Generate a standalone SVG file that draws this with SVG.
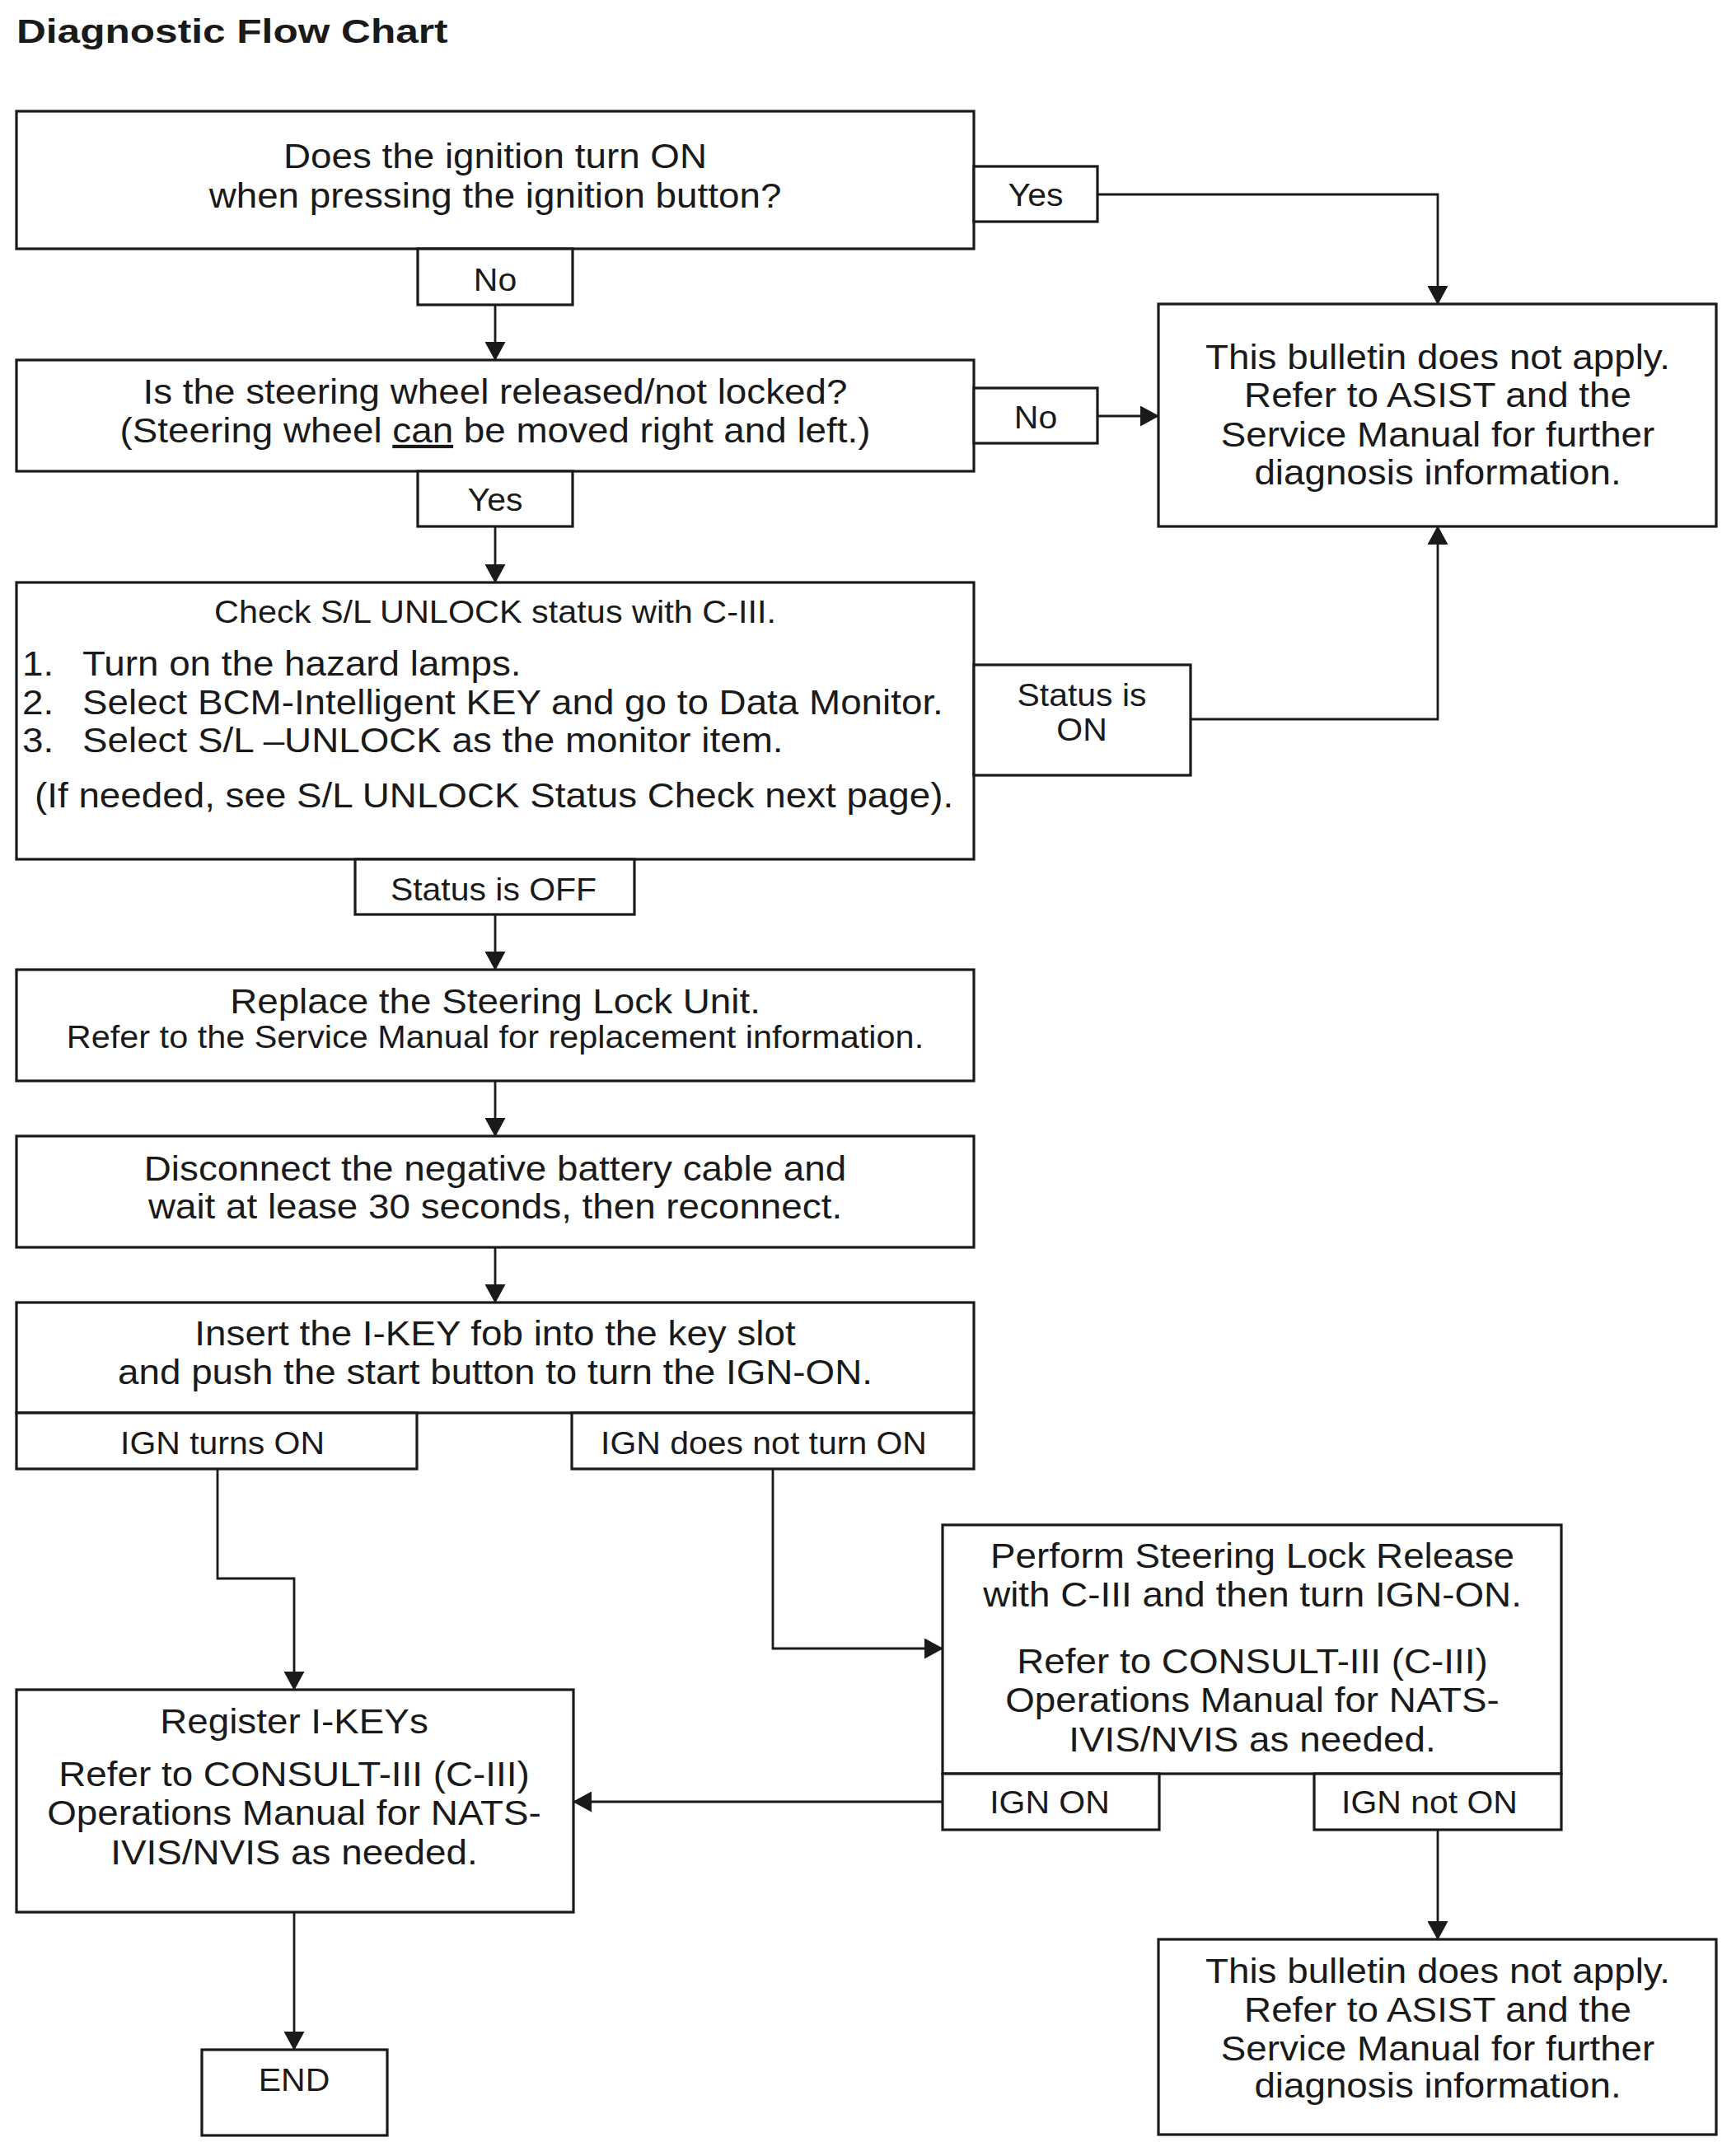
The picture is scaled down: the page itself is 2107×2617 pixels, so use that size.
<svg xmlns="http://www.w3.org/2000/svg" width="2107" height="2617" viewBox="0 0 2107 2617">
<defs>
<style>
.bg{fill:#ffffff}
.box{fill:#ffffff;stroke:#1a1a1a;stroke-width:3.2}
.edge{fill:none;stroke:#1a1a1a;stroke-width:2.8}
.t{font-family:"Liberation Sans",Arial,Helvetica,sans-serif;fill:#1a1a1a}
.c{text-anchor:middle}
.m{font-size:42px}
.s{font-size:38px}
.l{font-size:42px}
.lb{font-size:39px}
.title{font-size:41px;font-weight:bold}
</style>
<marker id="ah" markerUnits="userSpaceOnUse" markerWidth="23" markerHeight="25" refX="22" refY="12.5" orient="auto">
<path d="M0,0 L23,12.5 L0,25 Z" fill="#1a1a1a"/>
</marker>
</defs>
<rect class="bg" x="0" y="0" width="2107" height="2617"/>

<text class="t title" transform="matrix(1.21 0 0 1 20 52)">Diagnostic Flow Chart</text>

<g id="connectors">
<line class="edge" x1="601" y1="370" x2="601" y2="437" marker-end="url(#ah)"/>
<polyline class="edge" points="1332,236 1745,236 1745,369" marker-end="url(#ah)"/>
<line class="edge" x1="1332" y1="505" x2="1406" y2="505" marker-end="url(#ah)"/>
<line class="edge" x1="601" y1="639" x2="601" y2="707" marker-end="url(#ah)"/>
<polyline class="edge" points="1445,873 1745,873 1745,639" marker-end="url(#ah)"/>
<line class="edge" x1="601" y1="1110" x2="601" y2="1177" marker-end="url(#ah)"/>
<line class="edge" x1="601" y1="1312" x2="601" y2="1379" marker-end="url(#ah)"/>
<line class="edge" x1="601" y1="1514" x2="601" y2="1581" marker-end="url(#ah)"/>
<polyline class="edge" points="264,1783 264,1916 357,1916 357,2051" marker-end="url(#ah)"/>
<polyline class="edge" points="938,1783 938,2001 1144,2001" marker-end="url(#ah)"/>
<line class="edge" x1="1144" y1="2187" x2="696" y2="2187" marker-end="url(#ah)"/>
<line class="edge" x1="1745" y1="2221" x2="1745" y2="2354" marker-end="url(#ah)"/>
<line class="edge" x1="357" y1="2321" x2="357" y2="2488" marker-end="url(#ah)"/>
</g>

<g id="q-ignition">
<rect class="box" x="20" y="135" width="1162" height="167"/>
<text class="t m c" transform="matrix(1.09 0 0 1 601 204)">Does the ignition turn ON</text>
<text class="t m c" transform="matrix(1.09 0 0 1 601 252)">when pressing the ignition button?</text>
</g>
<g id="lbl-yes1">
<rect class="box" x="1182" y="202" width="150" height="67"/>
<text class="t lb c" transform="matrix(1.05 0 0 1 1257 250)">Yes</text>
</g>
<g id="lbl-no1">
<rect class="box" x="507" y="302" width="188" height="68"/>
<text class="t lb c" transform="matrix(1.05 0 0 1 601 353)">No</text>
</g>

<g id="q-steering">
<rect class="box" x="20" y="437" width="1162" height="135"/>
<text class="t m c" transform="matrix(1.09 0 0 1 601 490)">Is the steering wheel released/not locked?</text>
<text class="t m c" transform="matrix(1.09 0 0 1 601 537)">(Steering wheel <tspan text-decoration="underline">can</tspan> be moved right and left.)</text>
</g>
<g id="lbl-no2">
<rect class="box" x="1182" y="471" width="150" height="67"/>
<text class="t lb c" transform="matrix(1.05 0 0 1 1257 520)">No</text>
</g>
<g id="lbl-yes2">
<rect class="box" x="507" y="572" width="188" height="67"/>
<text class="t lb c" transform="matrix(1.05 0 0 1 601 620)">Yes</text>
</g>

<g id="na-1">
<rect class="box" x="1406" y="369" width="677" height="270"/>
<text class="t m c" transform="matrix(1.09 0 0 1 1745 448)">This bulletin does not apply.</text>
<text class="t m c" transform="matrix(1.09 0 0 1 1745 494)">Refer to ASIST and the</text>
<text class="t m c" transform="matrix(1.09 0 0 1 1745 542)">Service Manual for further</text>
<text class="t m c" transform="matrix(1.09 0 0 1 1745 588)">diagnosis information.</text>
</g>

<g id="check-unlock">
<rect class="box" x="20" y="707" width="1162" height="336"/>
<text class="t s c" transform="matrix(1.09 0 0 1 601 756)">Check S/L UNLOCK status with C-III.</text>
<text class="t l" transform="matrix(1.09 0 0 1 27 820)">1.</text>
<text class="t l" transform="matrix(1.09 0 0 1 100 820)">Turn on the hazard lamps.</text>
<text class="t l" transform="matrix(1.09 0 0 1 27 867)">2.</text>
<text class="t l" transform="matrix(1.09 0 0 1 100 867)">Select BCM-Intelligent KEY and go to Data Monitor.</text>
<text class="t l" transform="matrix(1.09 0 0 1 27 913)">3.</text>
<text class="t l" transform="matrix(1.09 0 0 1 100 913)">Select S/L –UNLOCK as the monitor item.</text>
<text class="t l" transform="matrix(1.09 0 0 1 42 980)">(If needed, see S/L UNLOCK Status Check next page).</text>
</g>
<g id="lbl-status-on">
<rect class="box" x="1182" y="807" width="263" height="134"/>
<text class="t lb c" transform="matrix(1.05 0 0 1 1313 857)">Status is</text>
<text class="t lb c" transform="matrix(1.05 0 0 1 1313 899)">ON</text>
</g>
<g id="lbl-status-off">
<rect class="box" x="431" y="1043" width="339" height="67"/>
<text class="t lb c" transform="matrix(1.05 0 0 1 599 1093)">Status is OFF</text>
</g>

<g id="replace-lock">
<rect class="box" x="20" y="1177" width="1162" height="135"/>
<text class="t m c" transform="matrix(1.09 0 0 1 601 1230)">Replace the Steering Lock Unit.</text>
<text class="t s c" transform="matrix(1.09 0 0 1 601 1272)">Refer to the Service Manual for replacement information.</text>
</g>

<g id="disconnect-battery">
<rect class="box" x="20" y="1379" width="1162" height="135"/>
<text class="t m c" transform="matrix(1.09 0 0 1 601 1433)">Disconnect the negative battery cable and</text>
<text class="t m c" transform="matrix(1.09 0 0 1 601 1479)">wait at lease 30 seconds, then reconnect.</text>
</g>

<g id="insert-ikey">
<rect class="box" x="20" y="1581" width="1162" height="134"/>
<text class="t m c" transform="matrix(1.09 0 0 1 601 1633)">Insert the I-KEY fob into the key slot</text>
<text class="t m c" transform="matrix(1.09 0 0 1 601 1680)">and push the start button to turn the IGN-ON.</text>
</g>
<g id="lbl-ign-turns-on">
<rect class="box" x="20" y="1715" width="486" height="68"/>
<text class="t lb c" transform="matrix(1.05 0 0 1 270 1765)">IGN turns ON</text>
</g>
<g id="lbl-ign-not-turn-on">
<rect class="box" x="694" y="1715" width="488" height="68"/>
<text class="t lb c" transform="matrix(1.05 0 0 1 927 1765)">IGN does not turn ON</text>
</g>

<g id="sl-release">
<rect class="box" x="1144" y="1851" width="751" height="302"/>
<text class="t m c" transform="matrix(1.09 0 0 1 1520 1903)">Perform Steering Lock Release</text>
<text class="t m c" transform="matrix(1.09 0 0 1 1520 1950)">with C-III and then turn IGN-ON.</text>
<text class="t m c" transform="matrix(1.09 0 0 1 1520 2031)">Refer to CONSULT-III (C-III)</text>
<text class="t m c" transform="matrix(1.09 0 0 1 1520 2078)">Operations Manual for NATS-</text>
<text class="t m c" transform="matrix(1.09 0 0 1 1520 2126)">IVIS/NVIS as needed.</text>
</g>
<g id="lbl-ign-on">
<rect class="box" x="1144" y="2153" width="263" height="68"/>
<text class="t lb c" transform="matrix(1.05 0 0 1 1274 2201)">IGN ON</text>
</g>
<g id="lbl-ign-not-on">
<rect class="box" x="1595" y="2153" width="300" height="68"/>
<text class="t lb c" transform="matrix(1.05 0 0 1 1735 2201)">IGN not ON</text>
</g>

<g id="register-ikeys">
<rect class="box" x="20" y="2051" width="676" height="270"/>
<text class="t m c" transform="matrix(1.09 0 0 1 357 2104)">Register I-KEYs</text>
<text class="t m c" transform="matrix(1.09 0 0 1 357 2168)">Refer to CONSULT-III (C-III)</text>
<text class="t m c" transform="matrix(1.09 0 0 1 357 2215)">Operations Manual for NATS-</text>
<text class="t m c" transform="matrix(1.09 0 0 1 357 2263)">IVIS/NVIS as needed.</text>
</g>

<g id="end">
<rect class="box" x="245" y="2488" width="225" height="104"/>
<text class="t lb c" transform="matrix(1.05 0 0 1 357 2538)">END</text>
</g>

<g id="na-2">
<rect class="box" x="1406" y="2354" width="677" height="237"/>
<text class="t m c" transform="matrix(1.09 0 0 1 1745 2407)">This bulletin does not apply.</text>
<text class="t m c" transform="matrix(1.09 0 0 1 1745 2454)">Refer to ASIST and the</text>
<text class="t m c" transform="matrix(1.09 0 0 1 1745 2501)">Service Manual for further</text>
<text class="t m c" transform="matrix(1.09 0 0 1 1745 2546)">diagnosis information.</text>
</g>
</svg>
